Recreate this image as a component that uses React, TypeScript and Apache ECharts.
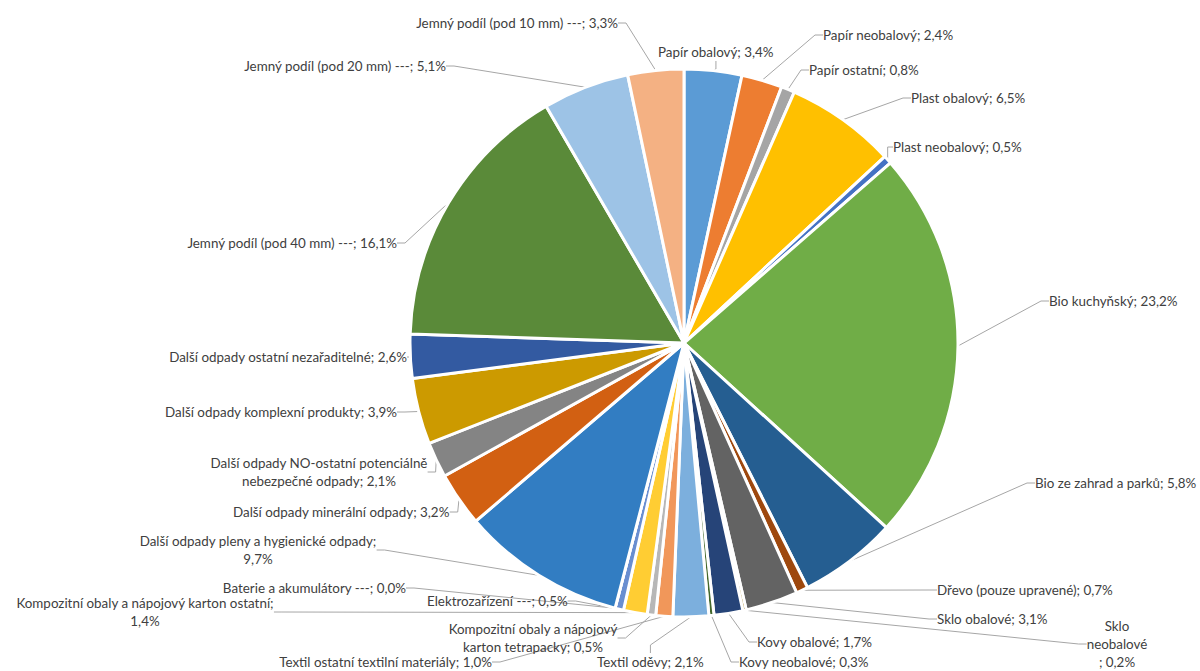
import React, { useEffect, useRef } from "react";
import * as echarts from "echarts";

const categories = [
  "Papír obalový",
  "Papír neobalový",
  "Papír ostatní",
  "Plast obalový",
  "Plast neobalový",
  "Bio kuchyňský",
  "Bio ze zahrad a parků",
  "Dřevo (pouze upravené)",
  "Sklo obalové",
  "Sklo neobalové",
  "Kovy obalové",
  "Kovy neobalové",
  "Textil oděvy",
  "Textil ostatní textilní materiály",
  "Kompozitní obaly a nápojový karton tetrapacky",
  "Kompozitní obaly a nápojový karton ostatní",
  "Elektrozařízení ---",
  "Baterie a akumulátory ---",
  "Další odpady pleny a hygienické odpady",
  "Další odpady minerální odpady",
  "Další odpady NO-ostatní potenciálně nebezpečné odpady",
  "Další odpady komplexní produkty",
  "Další odpady ostatní nezařaditelné",
  "Jemný podíl (pod 40 mm) ---",
  "Jemný podíl (pod 20 mm) ---",
  "Jemný podíl (pod 10 mm) ---",
];

const values = [
  3.4, 2.4, 0.8, 6.5, 0.5, 23.2, 5.8, 0.7, 3.1, 0.2, 1.7, 0.3, 2.1, 1.0, 0.5,
  1.4, 0.5, 0.0, 9.7, 3.2, 2.1, 3.9, 2.6, 16.1, 5.1, 3.3,
];

const colors = [
  "#5B9BD5", "#ED7D31", "#A5A5A5", "#FFC000", "#4472C4", "#70AD47",
  "#255E91", "#9E480E", "#636363", "#997300", "#264478", "#43682B",
  "#7CAFDD", "#F1975A", "#B7B7B7", "#FFCD33", "#698ED0", "#8CC168",
  "#327DC2", "#D26012", "#848484", "#CC9A00", "#335AA1", "#5A8A39",
  "#9DC3E6", "#F4B183",
];

// Wrapped label templates ({v} = formatted value)
const wrappedLabels: Record<number, string> = {
  9: "Sklo\nneobalové\n; {v}",
  14: "Kompozitní obaly a nápojový\nkarton tetrapacky; {v}",
  15: "Kompozitní obaly a nápojový karton ostatní;\n{v}",
  18: "Další odpady pleny a hygienické odpady;\n{v}",
  20: "Další odpady NO-ostatní potenciálně\nnebezpečné odpady; {v}",
};

// Label placement (layout only): [x, y, align]
const labelPos: [number, number, string][] = [
  [658, 52, "left"],
  [823, 35, "left"],
  [809, 70, "left"],
  [911, 98, "left"],
  [893, 147, "left"],
  [1049, 301, "left"],
  [1035, 483, "left"],
  [937, 590, "left"],
  [937, 619, "left"],
  [1117, 644, "center"],
  [757, 642, "left"],
  [739, 662, "left"],
  [597, 662, "left"],
  [492, 662, "right"],
  [533, 638, "center"],
  [145, 612, "center"],
  [427, 601, "left"],
  [406, 588, "right"],
  [258, 550, "center"],
  [233, 512, "left"],
  [319, 472, "center"],
  [397, 412, "right"],
  [407, 357, "right"],
  [397, 243, "right"],
  [446, 66, "right"],
  [618, 23, "right"],
];

const fmt = (v: number) => v.toFixed(1).replace(".", ",") + "%";

export default function App() {
  const ref = useRef<HTMLDivElement>(null);
  useEffect(() => {
    const chart = echarts.init(ref.current!, null, { renderer: "svg" });
    chart.setOption({
      animation: false,
      backgroundColor: "#ffffff",
      series: [
        {
          type: "pie",
          center: [684, 343],
          radius: 274,
          startAngle: 90,
          clockwise: true,
          avoidLabelOverlap: false,
          data: categories.map((name, i) => ({
            name,
            value: values[i],
            itemStyle: { color: colors[i] },
          })),
          itemStyle: { borderColor: "#ffffff", borderWidth: 3 },
          label: {
            show: true,
            position: "outside",
            formatter: (p: any) => {
              const v = fmt(values[p.dataIndex]);
              const t = wrappedLabels[p.dataIndex];
              return t ? t.replace("{v}", v) : `${p.name}; ${v}`;
            },
            color: "#404040",
            fontFamily: "Lato",
            fontSize: 13.4,
            lineHeight: 18,
          },
          labelLine: {
            show: true,
            length: 10,
            length2: 8,
            lineStyle: { color: "#A6A6A6", width: 1 },
          },
          labelLayout: (params: any) => {
            const p = labelPos[params.dataIndex];
            return { x: p[0], y: p[1], align: p[2], verticalAlign: "middle" };
          },
          emphasis: { disabled: true },
        },
      ],
    });
    return () => chart.dispose();
  }, []);
  return (
    <div
      ref={ref}
      style={{ position: "fixed", left: 0, top: 0, width: 1200, height: 671 }}
    />
  );
}
